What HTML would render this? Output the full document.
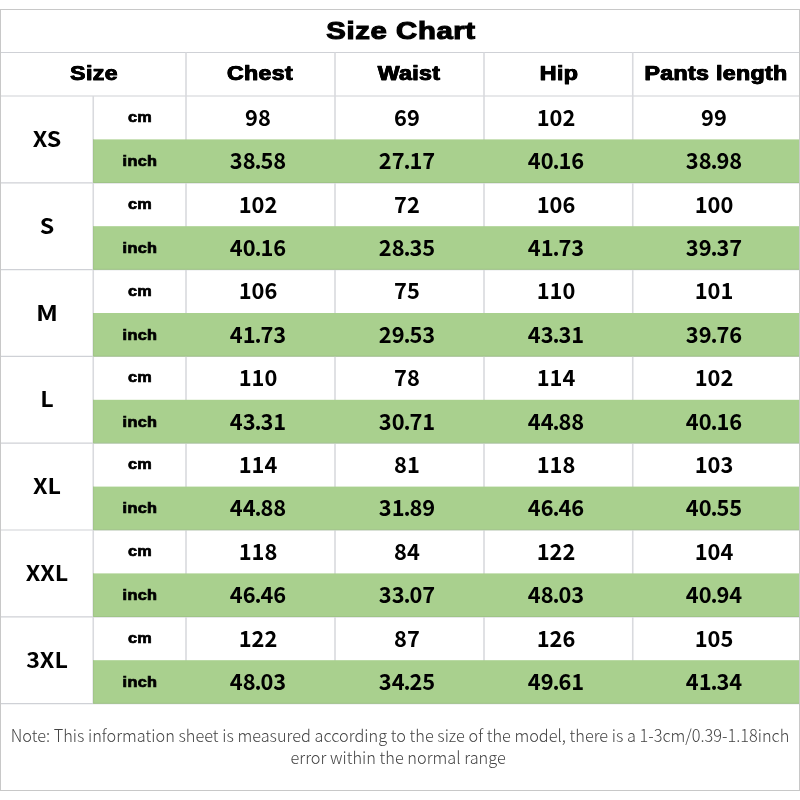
<!DOCTYPE html>
<html><head><meta charset="utf-8"><title>Size Chart</title>
<style>
html,body{margin:0;padding:0;background:#fff;}
body{width:800px;height:800px;position:relative;overflow:hidden;font-family:"Liberation Sans",sans-serif;color:#000;}
.abs{position:absolute;}
.t{position:absolute;white-space:nowrap;text-align:center;transform:translate(-50%,-50%) scaleX(var(--sx,1));line-height:1;}
.blk{font-family:"Liberation Sans",sans-serif;font-weight:700;-webkit-text-stroke:0.9px #000;}
.title{--sx:1.22;font-size:24px;letter-spacing:0.5px;-webkit-text-stroke:1.1px #000;}
.hd{--sx:1.2;font-size:19.3px;letter-spacing:0.3px;-webkit-text-stroke:0.75px #000;text-shadow:0.4px 0 0 #000,-0.4px 0 0 #000;}
.unit{--sx:1.1;font-size:14.8px;letter-spacing:0.3px;-webkit-text-stroke:0.7px #000;}
.num{--sx:0.97;font-family:"Noto Sans CJK SC","Liberation Sans",sans-serif;font-weight:700;font-size:22.5px;}
.num i{font-style:normal;margin:0 -1.2px;}
.sz{--sx:1.08;font-family:"Noto Sans CJK SC","Liberation Sans",sans-serif;font-weight:700;font-size:21.5px;}
.note{--sx:0.95;font-family:"Noto Sans CJK SC","Liberation Sans",sans-serif;font-weight:300;font-size:17.2px;color:#444;line-height:22.3px;}
#root{position:absolute;left:0;top:0;width:800px;height:800px;will-change:transform;}
</style></head><body><div id="root">

<svg class="abs" style="left:0;top:0" width="800" height="800" viewBox="0 0 800 800">
<line x1="1" y1="52.50" x2="799" y2="52.50" stroke="#cfd1d6" stroke-width="1.2"/>
<line x1="1" y1="96.00" x2="799" y2="96.00" stroke="#cfd1d6" stroke-width="1.2"/>
<line x1="1" y1="182.80" x2="799" y2="182.80" stroke="#cfd1d6" stroke-width="1.2"/>
<line x1="1" y1="269.60" x2="799" y2="269.60" stroke="#cfd1d6" stroke-width="1.2"/>
<line x1="1" y1="356.40" x2="799" y2="356.40" stroke="#cfd1d6" stroke-width="1.2"/>
<line x1="1" y1="443.20" x2="799" y2="443.20" stroke="#cfd1d6" stroke-width="1.2"/>
<line x1="1" y1="530.00" x2="799" y2="530.00" stroke="#cfd1d6" stroke-width="1.2"/>
<line x1="1" y1="616.80" x2="799" y2="616.80" stroke="#cfd1d6" stroke-width="1.2"/>
<line x1="1" y1="703.60" x2="799" y2="703.60" stroke="#cfd1d6" stroke-width="1.2"/>
<line x1="93.25" y1="96" x2="93.25" y2="703.6" stroke="#d9dade" stroke-width="1.6"/>
<line x1="186" y1="52.5" x2="186" y2="703.6" stroke="#d9dade" stroke-width="1.6"/>
<line x1="335" y1="52.5" x2="335" y2="703.6" stroke="#d9dade" stroke-width="1.6"/>
<line x1="484" y1="52.5" x2="484" y2="703.6" stroke="#d9dade" stroke-width="1.6"/>
<line x1="632.75" y1="52.5" x2="632.75" y2="703.6" stroke="#d9dade" stroke-width="1.6"/>
<rect x="93.4" y="139.40" width="705.6" height="43.00" fill="#a9d08e"/>
<line x1="93.4" y1="182.50" x2="799" y2="182.50" stroke="#9fc487" stroke-width="1"/>
<line x1="93.6" y1="139.40" x2="93.6" y2="182.80" stroke="#9fc487" stroke-width="1"/>
<rect x="93.4" y="226.20" width="705.6" height="43.00" fill="#a9d08e"/>
<line x1="93.4" y1="269.30" x2="799" y2="269.30" stroke="#9fc487" stroke-width="1"/>
<line x1="93.6" y1="226.20" x2="93.6" y2="269.60" stroke="#9fc487" stroke-width="1"/>
<rect x="93.4" y="313.00" width="705.6" height="43.00" fill="#a9d08e"/>
<line x1="93.4" y1="356.10" x2="799" y2="356.10" stroke="#9fc487" stroke-width="1"/>
<line x1="93.6" y1="313.00" x2="93.6" y2="356.40" stroke="#9fc487" stroke-width="1"/>
<rect x="93.4" y="399.80" width="705.6" height="43.00" fill="#a9d08e"/>
<line x1="93.4" y1="442.90" x2="799" y2="442.90" stroke="#9fc487" stroke-width="1"/>
<line x1="93.6" y1="399.80" x2="93.6" y2="443.20" stroke="#9fc487" stroke-width="1"/>
<rect x="93.4" y="486.60" width="705.6" height="43.00" fill="#a9d08e"/>
<line x1="93.4" y1="529.70" x2="799" y2="529.70" stroke="#9fc487" stroke-width="1"/>
<line x1="93.6" y1="486.60" x2="93.6" y2="530.00" stroke="#9fc487" stroke-width="1"/>
<rect x="93.4" y="573.40" width="705.6" height="43.00" fill="#a9d08e"/>
<line x1="93.4" y1="616.50" x2="799" y2="616.50" stroke="#9fc487" stroke-width="1"/>
<line x1="93.6" y1="573.40" x2="93.6" y2="616.80" stroke="#9fc487" stroke-width="1"/>
<rect x="93.4" y="660.20" width="705.6" height="43.00" fill="#a9d08e"/>
<line x1="93.4" y1="703.30" x2="799" y2="703.30" stroke="#9fc487" stroke-width="1"/>
<line x1="93.6" y1="660.20" x2="93.6" y2="703.60" stroke="#9fc487" stroke-width="1"/>
<rect x="0.5" y="9.5" width="799" height="781" fill="none" stroke="#c8c8c8" stroke-width="1"/>
</svg>
<div class="t blk title" style="left:401px;top:31px">Size Chart</div>
<div class="t blk hd" style="left:93.5px;top:73.5px">Size</div>
<div class="t blk hd" style="left:260.0px;top:73.5px">Chest</div>
<div class="t blk hd" style="left:409.0px;top:73.5px">Waist</div>
<div class="t blk hd" style="left:558.8px;top:73.5px">Hip</div>
<div class="t blk hd" style="left:716.3px;top:73.5px">Pants length</div>
<div class="t sz" style="left:46.9px;top:137.9px">XS</div>
<div class="t blk unit" style="left:139.5px;top:116.9px">cm</div>
<div class="t blk unit" style="left:139.5px;top:161.1px">inch</div>
<div class="t num" style="left:258.0px;top:115.7px">98</div>
<div class="t num" style="left:407.0px;top:115.7px">69</div>
<div class="t num" style="left:555.9px;top:115.7px">102</div>
<div class="t num" style="left:713.6px;top:115.7px">99</div>
<div class="t num" style="left:258.0px;top:159.1px">38<i>.</i>58</div>
<div class="t num" style="left:407.0px;top:159.1px">27<i>.</i>17</div>
<div class="t num" style="left:555.9px;top:159.1px">40<i>.</i>16</div>
<div class="t num" style="left:713.6px;top:159.1px">38<i>.</i>98</div>
<div class="t sz" style="left:46.9px;top:224.7px">S</div>
<div class="t blk unit" style="left:139.5px;top:203.7px">cm</div>
<div class="t blk unit" style="left:139.5px;top:247.9px">inch</div>
<div class="t num" style="left:258.0px;top:202.5px">102</div>
<div class="t num" style="left:407.0px;top:202.5px">72</div>
<div class="t num" style="left:555.9px;top:202.5px">106</div>
<div class="t num" style="left:713.6px;top:202.5px">100</div>
<div class="t num" style="left:258.0px;top:245.9px">40<i>.</i>16</div>
<div class="t num" style="left:407.0px;top:245.9px">28<i>.</i>35</div>
<div class="t num" style="left:555.9px;top:245.9px">41<i>.</i>73</div>
<div class="t num" style="left:713.6px;top:245.9px">39<i>.</i>37</div>
<div class="t sz" style="left:47.4px;top:311.5px;--sx:1.2">M</div>
<div class="t blk unit" style="left:139.5px;top:290.5px">cm</div>
<div class="t blk unit" style="left:139.5px;top:334.7px">inch</div>
<div class="t num" style="left:258.0px;top:289.3px">106</div>
<div class="t num" style="left:407.0px;top:289.3px">75</div>
<div class="t num" style="left:555.9px;top:289.3px">110</div>
<div class="t num" style="left:713.6px;top:289.3px">101</div>
<div class="t num" style="left:258.0px;top:332.7px">41<i>.</i>73</div>
<div class="t num" style="left:407.0px;top:332.7px">29<i>.</i>53</div>
<div class="t num" style="left:555.9px;top:332.7px">43<i>.</i>31</div>
<div class="t num" style="left:713.6px;top:332.7px">39<i>.</i>76</div>
<div class="t sz" style="left:46.9px;top:398.3px">L</div>
<div class="t blk unit" style="left:139.5px;top:377.3px">cm</div>
<div class="t blk unit" style="left:139.5px;top:421.5px">inch</div>
<div class="t num" style="left:258.0px;top:376.1px">110</div>
<div class="t num" style="left:407.0px;top:376.1px">78</div>
<div class="t num" style="left:555.9px;top:376.1px">114</div>
<div class="t num" style="left:713.6px;top:376.1px">102</div>
<div class="t num" style="left:258.0px;top:419.5px">43<i>.</i>31</div>
<div class="t num" style="left:407.0px;top:419.5px">30<i>.</i>71</div>
<div class="t num" style="left:555.9px;top:419.5px">44<i>.</i>88</div>
<div class="t num" style="left:713.6px;top:419.5px">40<i>.</i>16</div>
<div class="t sz" style="left:46.9px;top:485.1px">XL</div>
<div class="t blk unit" style="left:139.5px;top:464.1px">cm</div>
<div class="t blk unit" style="left:139.5px;top:508.3px">inch</div>
<div class="t num" style="left:258.0px;top:462.9px">114</div>
<div class="t num" style="left:407.0px;top:462.9px">81</div>
<div class="t num" style="left:555.9px;top:462.9px">118</div>
<div class="t num" style="left:713.6px;top:462.9px">103</div>
<div class="t num" style="left:258.0px;top:506.3px">44<i>.</i>88</div>
<div class="t num" style="left:407.0px;top:506.3px">31<i>.</i>89</div>
<div class="t num" style="left:555.9px;top:506.3px">46<i>.</i>46</div>
<div class="t num" style="left:713.6px;top:506.3px">40<i>.</i>55</div>
<div class="t sz" style="left:46.9px;top:571.9px">XXL</div>
<div class="t blk unit" style="left:139.5px;top:550.9px">cm</div>
<div class="t blk unit" style="left:139.5px;top:595.1px">inch</div>
<div class="t num" style="left:258.0px;top:549.7px">118</div>
<div class="t num" style="left:407.0px;top:549.7px">84</div>
<div class="t num" style="left:555.9px;top:549.7px">122</div>
<div class="t num" style="left:713.6px;top:549.7px">104</div>
<div class="t num" style="left:258.0px;top:593.1px">46<i>.</i>46</div>
<div class="t num" style="left:407.0px;top:593.1px">33<i>.</i>07</div>
<div class="t num" style="left:555.9px;top:593.1px">48<i>.</i>03</div>
<div class="t num" style="left:713.6px;top:593.1px">40<i>.</i>94</div>
<div class="t sz" style="left:46.9px;top:658.7px">3XL</div>
<div class="t blk unit" style="left:139.5px;top:637.7px">cm</div>
<div class="t blk unit" style="left:139.5px;top:681.9px">inch</div>
<div class="t num" style="left:258.0px;top:636.5px">122</div>
<div class="t num" style="left:407.0px;top:636.5px">87</div>
<div class="t num" style="left:555.9px;top:636.5px">126</div>
<div class="t num" style="left:713.6px;top:636.5px">105</div>
<div class="t num" style="left:258.0px;top:679.9px">48<i>.</i>03</div>
<div class="t num" style="left:407.0px;top:679.9px">34<i>.</i>25</div>
<div class="t num" style="left:555.9px;top:679.9px">49<i>.</i>61</div>
<div class="t num" style="left:713.6px;top:679.9px">41<i>.</i>34</div>
<div class="t note" style="left:400.2px;top:746.2px">Note: This information sheet is measured according to the size of the model, there is a 1-3cm/0.39-1.18inch<br><span style="position:relative;left:-2px">error within the normal range</span></div>
</div></body></html>
